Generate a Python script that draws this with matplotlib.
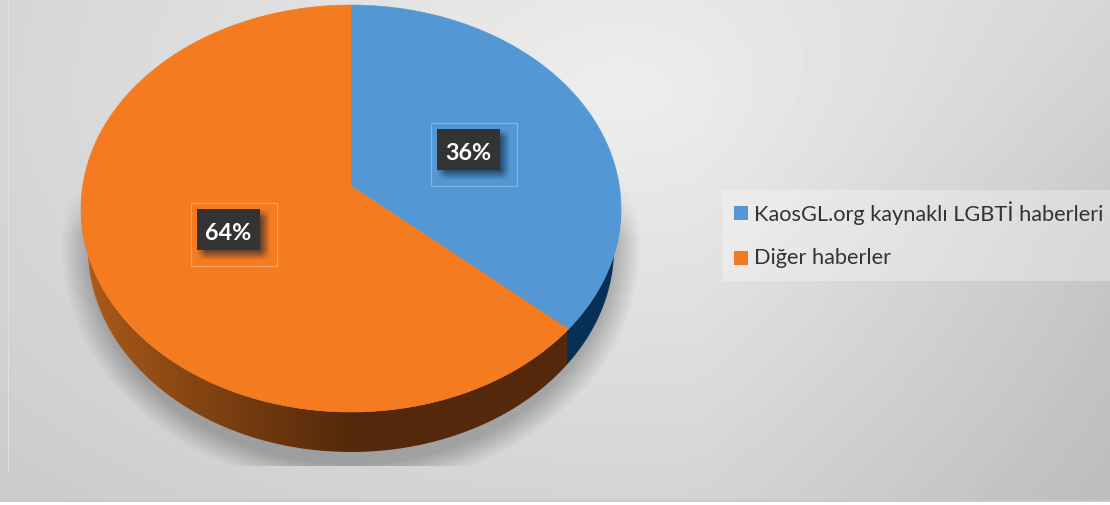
import numpy as np
import matplotlib
matplotlib.use("Agg")
import matplotlib.pyplot as plt
from matplotlib.patches import Polygon, Rectangle

categories = ["KaosGL.org kaynaklı LGBTİ haberleri", "Diğer haberler"]
shares = [36, 64]
labels = ["36%", "64%"]
top_colors = ["#5398D5", "#F47B20"]
legend_colors = ["#5397D3", "#EE7A24"]
W, H = 1110, 505
cx, cy, rx, ry = 351, 208.5, 270, 203.5
apex = (351, 186)
depth = 40
rx_low = 263
persp = 0.975

fig = plt.figure(figsize=(W/100, H/100), dpi=100)
ax = fig.add_axes([0, 0, 1, 1])
ax.set_xlim(0, W); ax.set_ylim(H, 0); ax.axis("off")

X, Y = np.meshgrid(np.arange(W)+.5, np.arange(H)+.5)
# background
r = np.sqrt(((X-620)/1000)**2 + ((Y-90)/620)**2)
bg = 0.93 - 0.15*np.clip(r, 0, 1.3) - 0.07*np.clip((X-700)/410, 0, 1)*np.clip((Y+60)/300, 0, 1)
ax.imshow(bg, cmap="gray", vmin=0, vmax=1, extent=(0, W, H, 0), aspect="auto", zorder=0)
ax.add_patch(Rectangle((0, 501), W, 4, fc="white", ec="none", zorder=1))
ax.plot([0, W], [500.5, 500.5], color="#c4c4c4", lw=1.2, zorder=1)
ax.plot([7.5, 7.5], [0, 471], color="#e2e2e2", lw=0.6, zorder=1)

# shadow
d = np.sqrt(((X-351)/290)**2 + ((Y-248)/240)**2)
a = 0.25*np.clip((1.0-d)/0.10, 0, 1)
a *= np.clip((Y-185)/50, 0, 1)
a[Y > 466] = 0
rgba = np.zeros((H, W, 4)); rgba[..., 3] = a
ax.imshow(rgba, extent=(0, W, H, 0), aspect="auto", zorder=2)

def pt(t, dy=0, rr=rx):
    return cx + rr*np.sin(t), cy - ry*np.cos(t) + dy

bounds = np.cumsum([0] + shares) / sum(shares) * 2*np.pi * persp
bounds[-1] = 2*np.pi

# side wall
t = np.linspace(np.pi/2, 3*np.pi/2, 300)
xt, yt = pt(t); xb, yb = pt(t[::-1], depth, rx_low)
wall = Polygon(np.c_[np.r_[xt, xb], np.r_[yt, yb]], closed=True, fc="none", ec="none", zorder=3)
ax.add_patch(wall)
xsplit, _ = pt(bounds[1])
xn = np.clip((X-85)/(351-85), 0, 1)
c0 = np.array([0.68, 0.36, 0.10]); c1 = np.array([0.33, 0.16, 0.04])
img = c0[None, None, :] + (c1-c0)[None, None, :]*xn[..., None]**0.9
img[X > xsplit-1] = (0.03, 0.19, 0.34)
im = ax.imshow(img, extent=(0, W, H, 0), aspect="auto", zorder=3)
im.set_clip_path(wall)

# top faces
for i, col in enumerate(top_colors):
    t = np.linspace(bounds[i], bounds[i+1], 300)
    x, y = pt(t)
    ax.add_patch(Polygon(np.c_[np.r_[apex[0], x], np.r_[apex[1], y]], closed=True, fc=col, ec=col, lw=0.4, zorder=4))

# value labels
label_pos = [(468, 150), (228, 230)]
for (lx, ly), s in zip(label_pos, labels):
    ax.add_patch(Rectangle((lx-37, ly-27), 86, 63, fc="none", ec=(1, 1, 1, 0.30), lw=0.8, zorder=5))
    x0, x1, y0, y1 = lx-31+5, lx+32+5, ly-21+5, ly+20+5
    sd = np.clip((X-x0+5)/9, 0, 1)*np.clip((x1+5-X)/9, 0, 1)*np.clip((Y-y0+5)/9, 0, 1)*np.clip((y1+5-Y)/9, 0, 1)
    sh = np.zeros((H, W, 4)); sh[..., :3] = (0.05, 0.12, 0.2); sh[..., 3] = 0.6*sd
    ax.imshow(sh, extent=(0, W, H, 0), aspect="auto", zorder=5)
    ax.add_patch(Rectangle((lx-31, ly-21), 63, 41, fc="#333333", ec="none", zorder=6))
    ax.text(lx, ly+3, s, color="white", fontsize=16.8, fontweight="bold", family="Lato", ha="center", va="center", zorder=7)

# legend
ax.add_patch(Rectangle((722, 190), W-722, 91, fc=(1, 1, 1, 0.30), ec="none", zorder=2))
for y, col, s in zip([213, 258], legend_colors, categories):
    ax.add_patch(Rectangle((734, y-7), 14, 14, fc=col, ec="none", zorder=5))
    ax.text(754, y, s, color="#333333", fontsize=15.65, family="Lato", ha="left", va="center", zorder=5)

fig.savefig("out.png", dpi=100)
